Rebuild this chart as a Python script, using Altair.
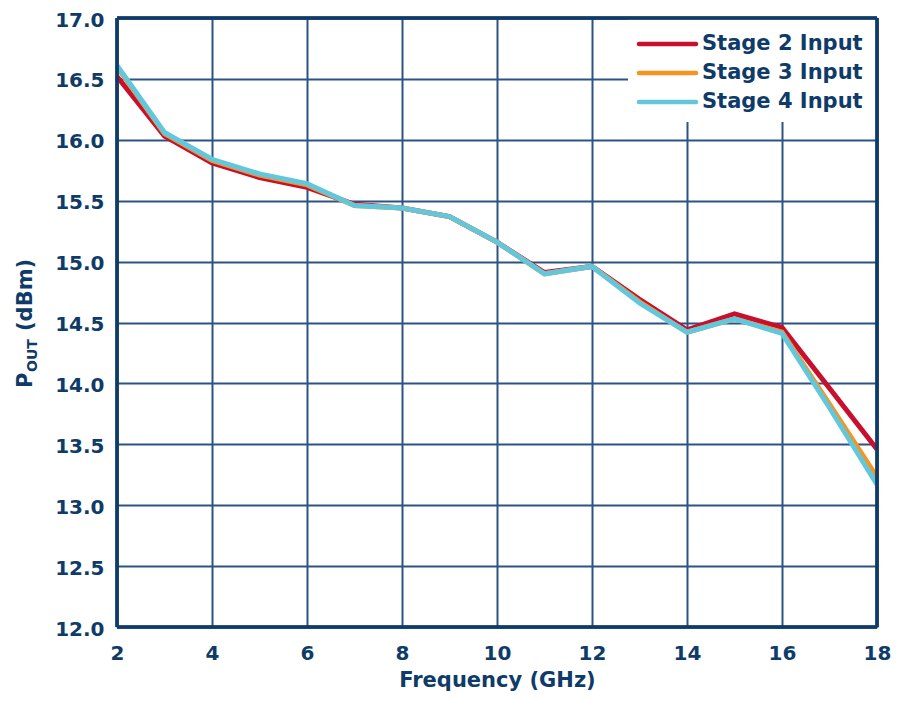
import altair as alt
import pandas as pd

freq = [2, 3, 4, 5, 6, 7, 8, 9, 10, 11, 12, 13, 14, 15, 16, 17, 18]
stage2 = [16.52, 16.03, 15.81, 15.69, 15.61, 15.47, 15.44, 15.37, 15.16, 14.91, 14.96, 14.69, 14.44, 14.57, 14.46, 13.96, 13.46]
stage3 = [16.60, 16.05, 15.83, 15.71, 15.63, 15.46, 15.44, 15.37, 15.16, 14.90, 14.96, 14.67, 14.42, 14.53, 14.42, 13.83, 13.23]
stage4 = [16.61, 16.06, 15.84, 15.72, 15.64, 15.46, 15.44, 15.37, 15.16, 14.90, 14.96, 14.66, 14.42, 14.53, 14.41, 13.80, 13.17]
series = ["Stage 2 Input", "Stage 3 Input", "Stage 4 Input"]
colors = ["#c8102e", "#f7941e", "#63c7db"]
x_ticks = [2, 4, 6, 8, 10, 12, 14, 16, 18]
y_ticks = [12.0, 12.5, 13.0, 13.5, 14.0, 14.5, 15.0, 15.5, 16.0, 16.5, 17.0]

rows = []
for name, vals, order in zip(series, [stage2, stage3, stage4], [0, 1, 2]):
    for f, v in zip(freq, vals):
        rows.append({"Frequency": f, "Pout": v, "Series": name, "order": order})
df = pd.DataFrame(rows)
legend_df = pd.DataFrame({"Series": series})

NAVY = "#0e3b68"
GRID = "#2b5483"
FONT = "DejaVu Sans"

xscale = alt.Scale(domain=[2, 18], nice=False, zero=False)
yscale = alt.Scale(domain=[12, 17], nice=False, zero=False)
cscale = alt.Scale(domain=series, range=colors)
legend_y = alt.Y("Series:N", scale=alt.Scale(type="point", domain=series, range=[26, 84], padding=0),
                 axis=None)

lines = alt.Chart(df).mark_line(strokeWidth=5, strokeJoin="miter", strokeCap="butt").encode(
    x=alt.X("Frequency:Q", scale=xscale,
            axis=alt.Axis(values=x_ticks, title="Frequency (GHz)", grid=True,
                          gridColor=GRID, gridWidth=2, gridOpacity=1,
                          ticks=False, domain=False, labelPadding=16,
                          labelFontSize=20, labelFont=FONT, labelFontWeight="bold",
                          labelColor=NAVY, titleFont=FONT, titleFontSize=21,
                          titleFontWeight="bold", titleColor=NAVY, titlePadding=6,
                          labelFlush=False)),
    y=alt.Y("Pout:Q", scale=yscale,
            axis=alt.Axis(values=y_ticks, format=".1f", title=None, grid=True,
                          gridColor=GRID, gridWidth=2, gridOpacity=1,
                          ticks=False, domain=False, labelPadding=13, labelOffset=2,
                          labelFontSize=20, labelFont=FONT, labelFontWeight="bold",
                          labelColor=NAVY, labelFlush=False)),
    color=alt.Color("Series:N", scale=cscale, legend=None),
    order=alt.Order("order:Q"),
)

# legend background box
legend_bg = alt.Chart(legend_df).mark_rect(color="white").encode(
    x=alt.value(511), x2=alt.value(760), y=alt.value(0), y2=alt.value(104))

# frame lines
frame_b = alt.Chart(legend_df).mark_rule(color=NAVY, strokeWidth=3).encode(
    x=alt.value(0), x2=alt.value(760), y=alt.value(609))
frame_t = alt.Chart(legend_df).mark_rule(color=NAVY, strokeWidth=3).encode(
    x=alt.value(0), x2=alt.value(760), y=alt.value(0))
frame_l = alt.Chart(legend_df).mark_rule(color=NAVY, strokeWidth=3).encode(
    y=alt.value(0), y2=alt.value(609), x=alt.value(0))
frame_r = alt.Chart(legend_df).mark_rule(color=NAVY, strokeWidth=3).encode(
    y=alt.value(0), y2=alt.value(609), x=alt.value(760))

# custom legend
legend_lines = alt.Chart(legend_df).mark_rule(strokeWidth=4.5, strokeCap="round").encode(
    x=alt.value(522), x2=alt.value(579), y=legend_y,
    color=alt.Color("Series:N", scale=cscale, legend=None))
legend_text = alt.Chart(legend_df).mark_text(
    align="left", baseline="middle", font=FONT, fontSize=21, fontWeight="bold",
    color=NAVY).encode(x=alt.value(585), y=legend_y, text="Series:N")

title_p = alt.Chart(pd.DataFrame({"t": ["P"]})).mark_text(
    angle=270, align="left", baseline="alphabetic", font=FONT, fontSize=21,
    fontWeight="bold", color=NAVY).encode(text="t:N", x=alt.value(-85), y=alt.value(370))
title_out = alt.Chart(pd.DataFrame({"t": ["OUT"]})).mark_text(
    angle=270, align="left", baseline="alphabetic", font=FONT, fontSize=14,
    fontWeight="bold", color=NAVY).encode(text="t:N", x=alt.value(-80), y=alt.value(354))
title_rest = alt.Chart(pd.DataFrame({"t": ["(dBm)"]})).mark_text(
    angle=270, align="left", baseline="alphabetic", font=FONT, fontSize=21,
    fontWeight="bold", color=NAVY).encode(text="t:N", x=alt.value(-85), y=alt.value(313))

chart = alt.layer(
    lines, legend_bg, frame_b, frame_t, frame_l, frame_r,
    legend_lines, legend_text, title_p, title_out, title_rest
).resolve_scale(y="independent").properties(
    width=760, height=609,
    padding={"left": 109, "top": 10, "right": 15, "bottom": 67},
    autosize=alt.AutoSizeParams(type="none"),
).configure_view(stroke=None).configure(background="white")

chart.save("out.html", embed_options={"renderer": "svg", "actions": False})
